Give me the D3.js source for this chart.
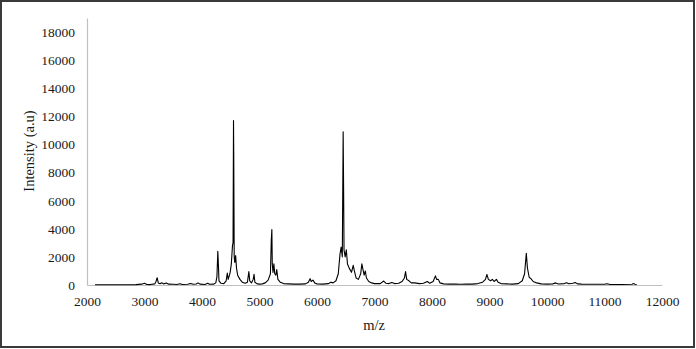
<!DOCTYPE html>
<html>
<head>
<meta charset="utf-8">
<script src="https://cdn.jsdelivr.net/npm/d3@7"></script>
<style>
  body { margin: 0; background: #fff; }
  .axis text { font-family: "Liberation Serif", "Times New Roman", serif; font-size: 13.5px; fill: #1a1a1a; }
  .axis path { stroke: #bfbfbf; }
  .title { font-family: "Liberation Serif", "Times New Roman", serif; font-size: 14.5px; fill: #1a1a1a; }
</style>
</head>
<body>
<div class="chart"></div>
<script>
// spectrum: m/z values and intensities (a.u)
const mzValues = [2140, 2300, 2500, 2700, 2850, 2950, 3000, 3040, 3100, 3180, 3200, 3220, 3240, 3270, 3300, 3330, 3380, 3420, 3500, 3560, 3620, 3660, 3750, 3800, 3850, 3900, 3930, 3970, 4050, 4100, 4130, 4200, 4240, 4260, 4275, 4285, 4295, 4330, 4380, 4420, 4440, 4455, 4470, 4490, 4510, 4530, 4540, 4548, 4552, 4560, 4570, 4585, 4600, 4620, 4660, 4700, 4750, 4790, 4815, 4830, 4860, 4890, 4905, 4920, 4960, 5000, 5050, 5100, 5150, 5190, 5205, 5215, 5222, 5235, 5250, 5265, 5285, 5300, 5320, 5360, 5420, 5500, 5600, 5700, 5800, 5850, 5880, 5900, 5930, 5960, 6000, 6100, 6200, 6240, 6280, 6330, 6370, 6400, 6420, 6440, 6455, 6462, 6470, 6490, 6510, 6530, 6560, 6600, 6630, 6650, 6680, 6720, 6760, 6780, 6800, 6820, 6840, 6860, 6900, 6950, 7000, 7100, 7160, 7200, 7250, 7300, 7350, 7420, 7480, 7520, 7540, 7560, 7600, 7640, 7700, 7780, 7850, 7920, 7960, 8020, 8060, 8080, 8110, 8140, 8200, 8300, 8400, 8500, 8600, 8700, 8800, 8880, 8930, 8955, 8980, 9020, 9050, 9080, 9120, 9150, 9200, 9300, 9400, 9500, 9570, 9610, 9640, 9660, 9690, 9720, 9760, 9820, 9900, 10000, 10100, 10150, 10200, 10300, 10340, 10380, 10450, 10490, 10530, 10600, 10800, 11000, 11040, 11100, 11300, 11480, 11500, 11530, 11560];
const intensities = [20, 20, 15, 20, 30, 60, 120, 40, 30, 80, 250, 520, 150, 90, 160, 80, 140, 60, 50, 40, 90, 40, 50, 110, 50, 70, 150, 60, 40, 120, 50, 60, 150, 600, 2400, 1500, 300, 120, 100, 300, 850, 400, 600, 900, 1500, 2800, 3000, 11700, 9300, 2000, 1600, 2100, 1200, 700, 400, 200, 120, 200, 950, 300, 150, 400, 760, 200, 80, 60, 80, 150, 350, 800, 3200, 3950, 1500, 900, 1500, 800, 700, 1100, 400, 200, 100, 80, 60, 60, 80, 200, 450, 250, 350, 150, 80, 60, 100, 200, 150, 300, 800, 2200, 2700, 2000, 10900, 7300, 2500, 2000, 2500, 1500, 1200, 900, 1400, 1000, 500, 400, 800, 1500, 1100, 700, 1000, 500, 250, 150, 100, 100, 280, 120, 100, 180, 100, 120, 250, 500, 950, 400, 300, 150, 150, 100, 120, 250, 120, 250, 650, 400, 400, 150, 80, 60, 60, 50, 60, 60, 100, 200, 400, 750, 400, 300, 400, 250, 400, 200, 100, 80, 60, 100, 300, 800, 2250, 1200, 550, 450, 250, 150, 80, 60, 80, 150, 70, 100, 160, 90, 120, 180, 80, 60, 50, 50, 90, 40, 40, 50, 100, 50, 30];
const xTicks = [2000, 3000, 4000, 5000, 6000, 7000, 8000, 9000, 10000, 11000, 12000];
const yTicks = [0, 2000, 4000, 6000, 8000, 10000, 12000, 14000, 16000, 18000];

const spectrum = mzValues.map((mz, i) => ({mz: mz, val: intensities[i]}));

const W = 696, H = 349;
const svg = d3.select('.chart').append('svg')
    .attr('width', W)
    .attr('height', H);

// outer frame
svg.append('rect')
    .attr('x', 1).attr('y', 1)
    .attr('width', W - 3).attr('height', H - 3)
    .attr('fill', 'none')
    .attr('stroke', '#3a3a3a')
    .attr('stroke-width', 2);

//scales
const xScale = d3.scaleLinear().domain([2000, 12000]).range([87, 662]);
const yScale = d3.scaleLinear().domain([0, 19000]).range([285, 18]);

//axes
svg.append('g')
    .attr('class', 'axis x-axis')
    .attr('transform', 'translate(0,285)')
    .call(d3.axisBottom(xScale).tickValues(xTicks).tickSize(0).tickSizeOuter(0).tickPadding(11).tickFormat(d3.format('d')));

svg.append('g')
    .attr('class', 'axis y-axis')
    .attr('transform', 'translate(87,0)')
    .call(d3.axisLeft(yScale).tickValues(yTicks).tickSize(0).tickSizeOuter(0).tickPadding(12).tickFormat(d3.format('d')));

svg.selectAll('.axis .domain').attr('stroke-width', 1.2);

//the spectrum line
const line = d3.line()
    .x(d => xScale(d.mz))
    .y(d => yScale(d.val));

svg.append('path')
    .datum(spectrum)
    .attr('fill', 'none')
    .attr('stroke', '#000')
    .attr('stroke-width', 1.1)
    .attr('stroke-linejoin', 'round')
    .attr('d', line);

//axis titles
svg.append('text')
    .attr('class', 'title')
    .attr('x', 374)
    .attr('y', 330)
    .attr('text-anchor', 'middle')
    .text('m/z');

svg.append('text')
    .attr('class', 'title')
    .attr('transform', 'translate(34,151) rotate(-90)')
    .attr('text-anchor', 'middle')
    .text('Intensity (a.u)');
</script>
</body>
</html>
